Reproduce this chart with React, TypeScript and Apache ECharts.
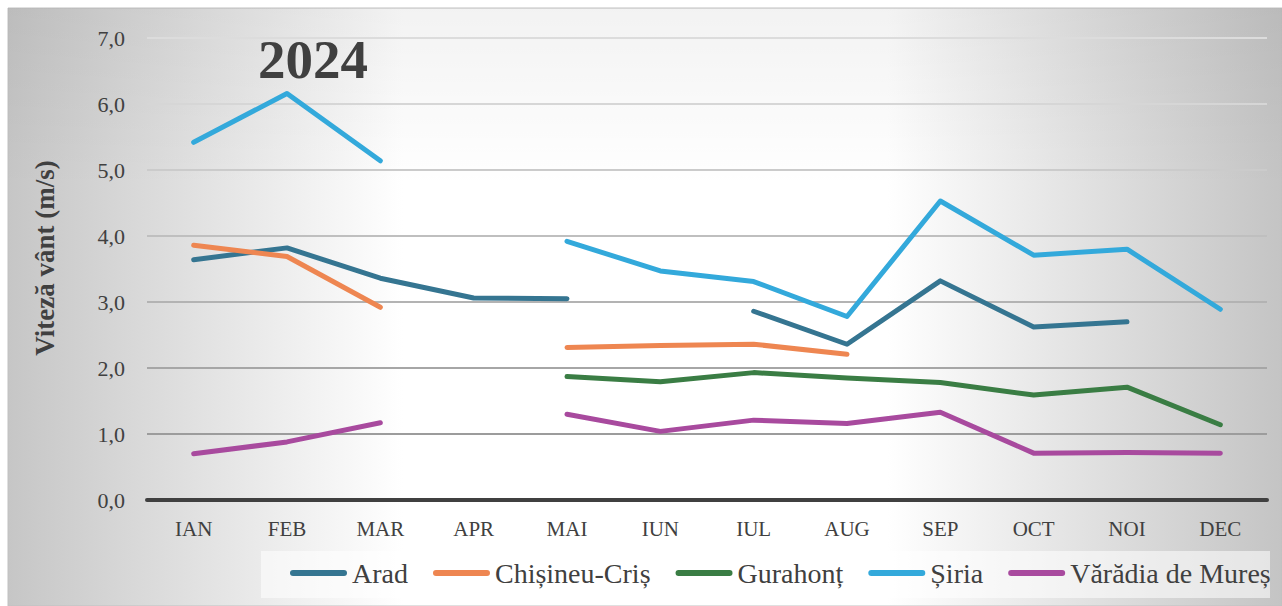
import React, { useEffect, useRef } from "react";
import * as echarts from "echarts";

const months = ["IAN", "FEB", "MAR", "APR", "MAI", "IUN", "IUL", "AUG", "SEP", "OCT", "NOI", "DEC"];
const seriesNames = ["Arad", "Chișineu-Criș", "Gurahonț", "Șiria", "Vărădia de Mureș"];
const arad = [3.64, 3.82, 3.36, 3.06, 3.05, null, 2.86, 2.36, 3.32, 2.62, 2.7, null];
const chisineu = [3.86, 3.69, 2.92, null, 2.31, 2.34, 2.36, 2.21, null, null, null, null];
const gurahont = [null, null, null, null, 1.87, 1.79, 1.93, 1.85, 1.78, 1.59, 1.71, 1.14];
const siria = [5.42, 6.16, 5.14, null, 3.92, 3.47, 3.31, 2.78, 4.53, 3.71, 3.8, 2.89];
const varadia = [0.7, 0.88, 1.17, null, 1.3, 1.04, 1.21, 1.16, 1.33, 0.71, 0.72, 0.71];
const seriesData = [arad, chisineu, gurahont, siria, varadia];
const colors = ["#357591", "#EE8651", "#3A7D44", "#33A9DB", "#A84A9E"];
const titleText = "2024";
const yAxisTitle = "Viteză vânt (m/s)";

const SERIF = "Liberation Serif";
const legendText = { fontFamily: SERIF, fontSize: 28, color: "#404040" };

export default function App() {
  const ref = useRef<HTMLDivElement>(null);
  useEffect(() => {
    document.body.style.margin = "0";
    const chart = echarts.init(ref.current!, null, { renderer: "svg" });
    chart.setOption({
      animation: false,
      color: colors,
      textStyle: { fontFamily: SERIF },
      title: {
        text: titleText,
        left: 253,
        top: 27,
        textStyle: { fontFamily: SERIF, fontSize: 55, fontWeight: "bold", color: "#404040" },
      },
      graphic: [
        {
          type: "rect",
          silent: true,
          z: -10,
          shape: { x: 8, y: 8, width: 1274, height: 598 },
          style: {
            fill: new echarts.graphic.LinearGradient(0, 0, 1, 0, [
              { offset: 0, color: "#c6c6c6" },
              { offset: 0.31, color: "#ffffff" },
              { offset: 0.69, color: "#ffffff" },
              { offset: 1, color: "#c4c4c4" },
            ]),
            stroke: "#c0c0c0",
            lineWidth: 1,
          },
        },
        {
          type: "rect",
          silent: true,
          z: -9,
          shape: { x: 8, y: 8, width: 1274, height: 598 },
          style: {
            fill: new echarts.graphic.LinearGradient(0, 0, 0, 1, [
              { offset: 0, color: "rgba(0,0,0,0.05)" },
              { offset: 0.3, color: "rgba(0,0,0,0)" },
              { offset: 1, color: "rgba(0,0,0,0)" },
            ]),
          },
        },
        {
          type: "rect",
          silent: true,
          z: -8,
          shape: { x: 261, y: 551, width: 1009, height: 47 },
          style: { fill: "rgba(255,255,255,0.55)" },
        },
      ],
      legend: {
        data: seriesNames,
        left: 290,
        top: 559,
        width: 990,
        padding: 0,
        itemWidth: 57,
        itemHeight: 6,
        itemGap: 25,
        icon: "path://M3 0H54A3 3 0 0 1 54 6H3A3 3 0 0 1 3 0Z",
        textStyle: legendText,
      },
      grid: { left: 147, right: 15, top: 38, bottom: 106, containLabel: false },
      xAxis: {
        type: "category",
        data: months,
        boundaryGap: true,
        axisLine: { show: true, lineStyle: { color: "#404040", width: 4 } },
        axisTick: { show: false },
        axisLabel: { fontFamily: SERIF, fontSize: 21, color: "#404040", margin: 18 },
        splitLine: { show: false },
      },
      yAxis: {
        type: "value",
        min: 0,
        max: 7,
        interval: 1,
        name: yAxisTitle,
        nameLocation: "middle",
        nameRotate: 90,
        nameGap: 89,
        nameTextStyle: {
          fontFamily: SERIF,
          fontSize: 27,
          fontWeight: "bold",
          color: "#404040",
          padding: [0, 0, 0, 22],
        },
        axisLine: { show: false },
        axisTick: { show: false },
        axisLabel: {
          fontFamily: SERIF,
          fontSize: 22,
          color: "#404040",
          margin: 22,
          formatter: (v: number) => v.toFixed(1).replace(".", ","),
        },
        splitLine: {
          show: true,
          lineStyle: {
            width: 2,
            color: ["#999999", "#9c9c9c", "#a6a6a6", "#b3b3b3", "#bfbfbf", "#cbcbcb", "#d6d6d6", "#dcdcdc"],
          },
        },
      },
      series: seriesNames.map((name, i) => ({
        name,
        type: "line",
        data: seriesData[i],
        symbol: "none",
        showSymbol: false,
        connectNulls: false,
        lineStyle: { width: 5, color: colors[i], cap: "round", join: "round" },
        itemStyle: { color: colors[i] },
      })),
    });
    return () => chart.dispose();
  }, []);
  return <div ref={ref} style={{ width: 1282, height: 606 }} />;
}
